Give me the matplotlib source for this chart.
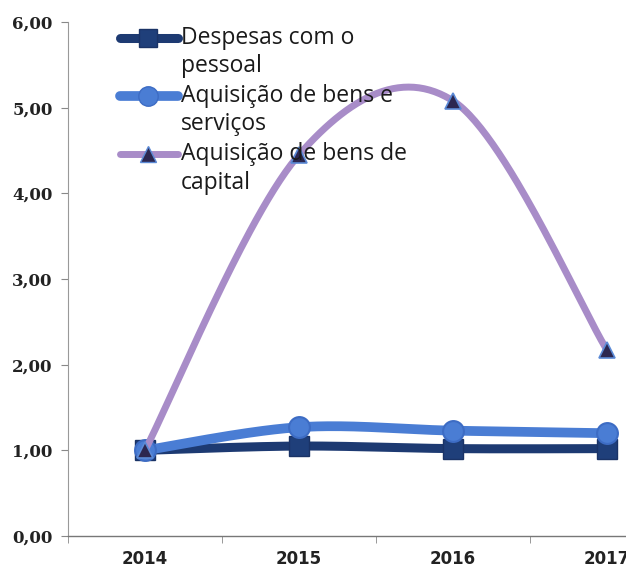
import numpy as np
import matplotlib
matplotlib.use("Agg")
import matplotlib.pyplot as plt
from matplotlib.lines import Line2D

years = ["2014", "2015", "2016", "2017"]
despesas = [1.00, 1.05, 1.02, 1.02]
bens_servicos = [1.00, 1.27, 1.23, 1.20]
bens_capital = [1.00, 4.45, 5.08, 2.17]
labels = ["Despesas com o\npessoal", "Aquisição de bens e\nserviços", "Aquisição de bens de\ncapital"]
yticks = [0, 1, 2, 3, 4, 5, 6]


def smooth(x, y, n=60):
    x = np.asarray(x, float); y = np.asarray(y, float)
    px = np.concatenate([[x[0]], x, [x[-1]]])
    py = np.concatenate([[y[0]], y, [y[-1]]])
    xs, ys = [], []
    t = np.linspace(0, 1, n)
    for i in range(len(x) - 1):
        p0 = np.array([px[i + 1], py[i + 1]])
        p3 = np.array([px[i + 2], py[i + 2]])
        c1 = p0 + (p3 - np.array([px[i], py[i]])) / 6
        c2 = p3 - (np.array([px[i + 3], py[i + 3]]) - p0) / 6
        b = ((1 - t) ** 3)[:, None] * p0 + (3 * (1 - t) ** 2 * t)[:, None] * c1 + \
            (3 * (1 - t) * t ** 2)[:, None] * c2 + (t ** 3)[:, None] * p3
        xs.append(b[:, 0]); ys.append(b[:, 1])
    return np.concatenate(xs), np.concatenate(ys)


fig = plt.figure(figsize=(6.26, 5.70), dpi=100)
ax = fig.add_axes([68 / 626, 34 / 570, 616 / 626, 514 / 570])
x = np.arange(len(years))

c_dark = "#1d3a72"
c_blue = "#4a7dd4"
c_lav = "#a88cc8"

sx, sy = smooth(x, despesas)
ax.plot(sx, sy, color=c_dark, lw=6.5, solid_capstyle="round", zorder=3)
ax.plot(x, despesas, ls="none", marker="s", ms=14, mfc="#1f3f7a", mec="#1a3366", mew=1, zorder=4)

sx, sy = smooth(x, bens_servicos)
ax.plot(sx, sy, color=c_blue, lw=7, solid_capstyle="round", zorder=5)
ax.plot(x, bens_servicos, ls="none", marker="o", ms=15, mfc="#4a7dd4", mec="#3d6cc4", mew=1.5, zorder=6)

sx, sy = smooth(x, bens_capital)
ax.plot(sx, sy, color=c_lav, lw=5, solid_capstyle="round", zorder=7)
ax.plot(x, bens_capital, ls="none", marker="^", ms=12, mfc="#2c2750", mec="#5b8ad6", mew=1.2, zorder=8)

ax.set_xlim(-0.5, 3.5)
ax.set_ylim(0, 6)
ax.set_yticks(yticks)
ax.set_yticklabels([f"{v:.2f}".replace(".", ",") for v in yticks],
                   fontsize=12, fontweight="bold", color="#222222", family="DejaVu Serif")
ax.set_xticks(x)
ax.set_xticklabels(years, fontsize=12, fontweight="bold", color="#222222", family="DejaVu Sans")
ax.set_xticks([-0.5, 0.5, 1.5, 2.5, 3.5], minor=True)
ax.tick_params(axis="x", which="major", length=0, pad=10)
ax.tick_params(axis="x", which="minor", length=5, color="#888888")
ax.tick_params(axis="y", length=5, color="#888888", pad=6)
for s in ["top", "right"]:
    ax.spines[s].set_visible(False)
ax.spines["left"].set_color("#999999")
ax.spines["bottom"].set_color("#777777")
ax.spines["left"].set_linewidth(0.8)
ax.spines["bottom"].set_linewidth(1.0)

# legend (manual)
leg_specs = [
    (c_dark, 6.5, "s", 13, "#1f3f7a", "#1a3366"),
    (c_blue, 7, "o", 14, "#4a7dd4", "#3d6cc4"),
    (c_lav, 5, "^", 11, "#2c2750", "#5b8ad6"),
]
ys_px = [38, 96, 154]
for (col, lw, mk, ms, mfc, mec), lab, ypx in zip(leg_specs, labels, ys_px):
    yf = 1 - (ypx - 22) / 514
    ytf = 1 - (ypx - 22 - 12) / 514
    x0 = (120 - 68) / 616
    x1 = (178 - 68) / 616
    xm = (148 - 68) / 616
    ax.add_line(Line2D([x0, x1], [yf, yf], transform=ax.transAxes, color=col, lw=lw,
                       solid_capstyle="round", zorder=10))
    ax.add_line(Line2D([xm], [yf], transform=ax.transAxes, ls="none", marker=mk, ms=ms,
                       mfc=mfc, mec=mec, zorder=11))
    ax.text((181 - 68) / 616, ytf, lab, transform=ax.transAxes, fontsize=16.5,
            family="Open Sans", color="#1a1a1a", va="top", ha="left",
            linespacing=1.25, zorder=12)

fig.savefig("out.png", dpi=100)
